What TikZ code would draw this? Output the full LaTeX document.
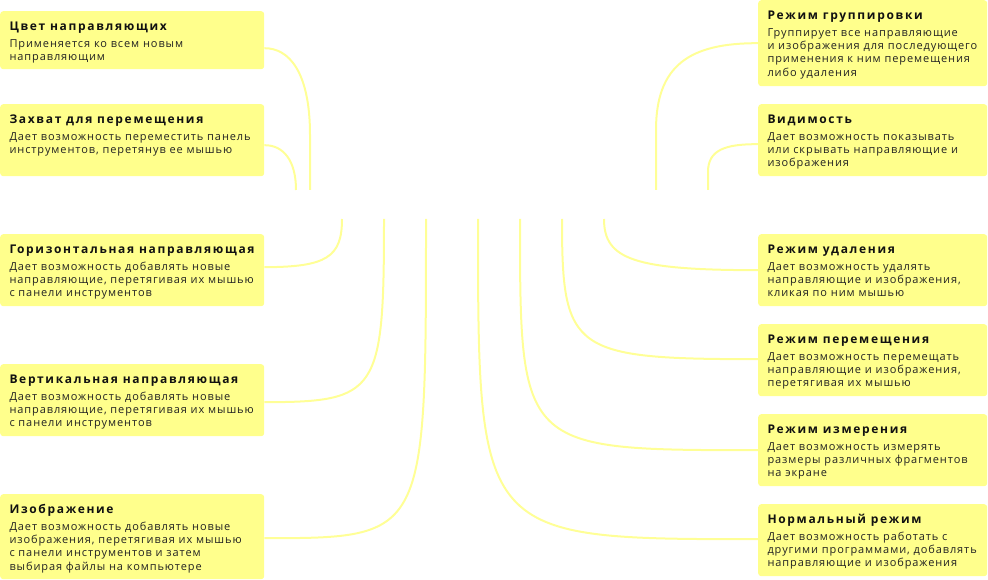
\documentclass[tikz,border=0pt]{standalone}
\usepackage{fontspec}
\setmainfont{Open Sans}
\newfontfamily\ttlfont{Open Sans}[LetterSpace=14]
\newfontfamily\bdyfont{Open Sans}[LetterSpace=8.3]
\definecolor{boxy}{RGB}{255,255,140}
\definecolor{liney}{RGB}{255,255,150}
\definecolor{ttlc}{RGB}{17,17,17}
\definecolor{bdyc}{RGB}{34,34,34}
\begin{document}
\begin{tikzpicture}[x=1pt,y=-1pt,
  box/.style={fill=boxy, rounded corners=3pt, anchor=north west, inner sep=0pt},
  lbox/.style={box, minimum width=264pt},
  rbox/.style={box, minimum width=229pt},
  ttl/.style={anchor=base west, inner sep=0pt, font=\ttlfont\bfseries\fontsize{12}{13}\selectfont, text=ttlc},
  bdy/.style={anchor=base west, inner sep=0pt, font=\bdyfont\fontsize{11}{13.3}\selectfont, text=bdyc},
  conn/.style={draw=liney, line width=2pt}]
\useasboundingbox (0,0) rectangle (988,580);

% left boxes
\node[lbox, minimum height=58pt] (L1) at (0,11) {};
\node[lbox, minimum height=72pt] (L2) at (0,104) {};
\node[lbox, minimum height=72pt] (L3) at (0,234) {};
\node[lbox, minimum height=72pt] (L4) at (0,364) {};
\node[lbox, minimum height=85pt] (L5) at (0,494) {};
% right boxes
\node[rbox, minimum height=86pt] (R1) at (758,0) {};
\node[rbox, minimum height=72pt] (R2) at (758,104) {};
\node[rbox, minimum height=72pt] (R3) at (758,234) {};
\node[rbox, minimum height=72pt] (R4) at (758,324) {};
\node[rbox, minimum height=72pt] (R5) at (758,414) {};
\node[rbox, minimum height=72pt] (R6) at (758,504) {};

% texts
\foreach \b/\t/\d in {
  L1/{Цвет направляющих}/{Применяется ко всем новым\\направляющим},
  L2/{Захват для перемещения}/{Дает возможность переместить панель\\инструментов, перетянув ее мышью},
  L3/{Горизонтальная направляющая}/{Дает возможность добавлять новые\\направляющие, перетягивая их мышью\\с панели инструментов},
  L4/{Вертикальная направляющая}/{Дает возможность добавлять новые\\направляющие, перетягивая их мышью\\с панели инструментов},
  L5/{Изображение}/{Дает возможность добавлять новые\\изображения, перетягивая их мышью\\с панели инструментов и затем\\выбирая файлы на компьютере},
  R1/{Режим группировки}/{Группирует все направляющие\\и изображения для последующего\\применения к ним перемещения\\либо удаления},
  R2/{Видимость}/{Дает возможность показывать\\или скрывать направляющие и\\изображения},
  R3/{Режим удаления}/{Дает возможность удалять\\направляющие и изображения,\\кликая по ним мышью},
  R4/{Режим перемещения}/{Дает возможность перемещать\\направляющие и изображения,\\перетягивая их мышью},
  R5/{Режим измерения}/{Дает возможность измерять\\размеры различных фрагментов\\на экране},
  R6/{Нормальный режим}/{Дает возможность работать с\\другими программами, добавлять\\направляющие и изображения}}{
  \node[ttl] (\b t) at ([shift={(9.3pt,-19.3pt)}]\b.north west) {\t};
  \node[bdy] (\b d) at ([shift={(9.3pt,-36.3pt)}]\b.north west) {\begin{tabular}[t]{@{}l@{}}\d\end{tabular}};
}

% hub ends
\coordinate (hL1) at (310,190);
\coordinate (hL2) at (296,190);
\coordinate (hL3) at (342,219);
\coordinate (hL4) at (384,219);
\coordinate (hL5) at (426,219);
\coordinate (hR1) at (656,190);
\coordinate (hR2) at (708,190);
\coordinate (hR3) at (604,219);
\coordinate (hR4) at (562,219);
\coordinate (hR5) at (520,219);
\coordinate (hR6) at (478,219);

% connectors
\draw[conn] ([yshift=-8pt]L1.east) .. controls (289,48) and (310,72) .. (310,135) -- (hL1);
\draw[conn] ([yshift=-5pt]L2.east) .. controls (283,145) and (296,160) .. (hL2);
\draw[conn] (hL3) .. controls (342,257.4) and (326.4,267) .. ([yshift=3pt]L3.east);
\draw[conn] (hL4) .. controls (384,392.9) and (378,402) .. ([yshift=-2pt]L4.east);
\draw[conn] (hL5) .. controls (426,538) and (426,538) .. ([yshift=-1.5pt]L5.east);
\draw[conn] (R1.west) .. controls (690,43) and (656,65) .. (656,130) -- (hR1);
\draw[conn] ([yshift=-4pt]R2.west) .. controls (725,144) and (708,150) .. (708,172) -- (hR2);
\draw[conn] (hR3) .. controls (604,259.8) and (634.8,270) .. (R3.west);
\draw[conn] (hR4) .. controls (562,352) and (571.8,359) .. ([yshift=1pt]R4.west);
\draw[conn] (hR5) .. controls (520,450) and (520,450) .. (R5.west);
\draw[conn] (hR6) .. controls (478,539) and (478,539) .. ([yshift=1pt]R6.west);
\end{tikzpicture}
\end{document}
